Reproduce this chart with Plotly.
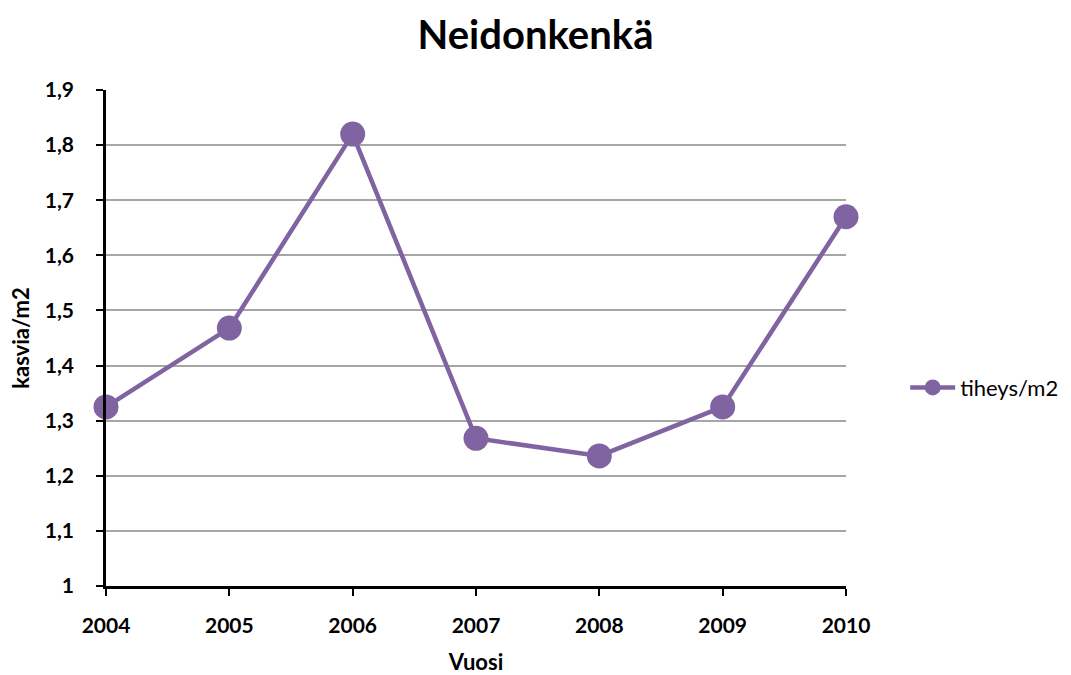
import plotly.graph_objects as go

# Annual density of the plant per square metre
years = [2004, 2005, 2006, 2007, 2008, 2009, 2010]
density = [1.325, 1.468, 1.82, 1.268, 1.236, 1.325, 1.67]
series_name = "tiheys/m2"

purple = "#8064A2"
font_family = "Lato, 'Open Sans', sans-serif"

fig = go.Figure(
    go.Scatter(
        x=years,
        y=density,
        mode="lines+markers",
        name=series_name,
        line=dict(color=purple, width=4.5),
        marker=dict(color=purple, size=25),
        cliponaxis=False,
        showlegend=True,
    )
)

tick_font = dict(size=21, family=font_family, color="black", weight="bold")

fig.update_layout(
    width=1071,
    height=675,
    margin=dict(l=106, r=225, t=90, b=89, autoexpand=False),
    paper_bgcolor="white",
    plot_bgcolor="white",
    separators=", ",
    font=dict(family=font_family, color="black"),
    title=dict(
        text="<b>Neidonkenkä</b>",
        x=0.5,
        xanchor="center",
        y=0.948,
        yanchor="middle",
        font=dict(size=40, family=font_family, color="black"),
    ),
    legend=dict(
        x=1.08,
        y=0.4,
        xanchor="left",
        yanchor="middle",
        font=dict(size=22, family=font_family, color="black"),
        bgcolor="rgba(0,0,0,0)",
        itemwidth=45,
    ),
    xaxis=dict(
        range=[2004, 2010],
        tickmode="linear",
        tick0=2004,
        dtick=1,
        automargin=False,
        showline=True,
        linecolor="black",
        linewidth=2.5,
        ticks="outside",
        ticklen=7,
        tickwidth=2,
        tickcolor="black",
        ticklabelstandoff=12,
        showgrid=False,
        zeroline=False,
        tickfont=tick_font,
        title=dict(text="<b>Vuosi</b>", font=dict(size=22, family=font_family), standoff=24),
    ),
    yaxis=dict(
        range=[1, 1.9],
        tickmode="linear",
        tick0=1,
        dtick=0.1,
        automargin=False,
        showline=True,
        linecolor="black",
        linewidth=2.5,
        ticks="outside",
        ticklen=7,
        tickwidth=2,
        tickcolor="black",
        ticklabelstandoff=18,
        showgrid=True,
        gridcolor="#A6A6A6",
        gridwidth=1.5,
        zeroline=False,
        tickfont=tick_font,
        title=dict(text="<b>kasvia/m2</b>", font=dict(size=22, family=font_family), standoff=10),
    ),
)

fig.write_html("out.html")
